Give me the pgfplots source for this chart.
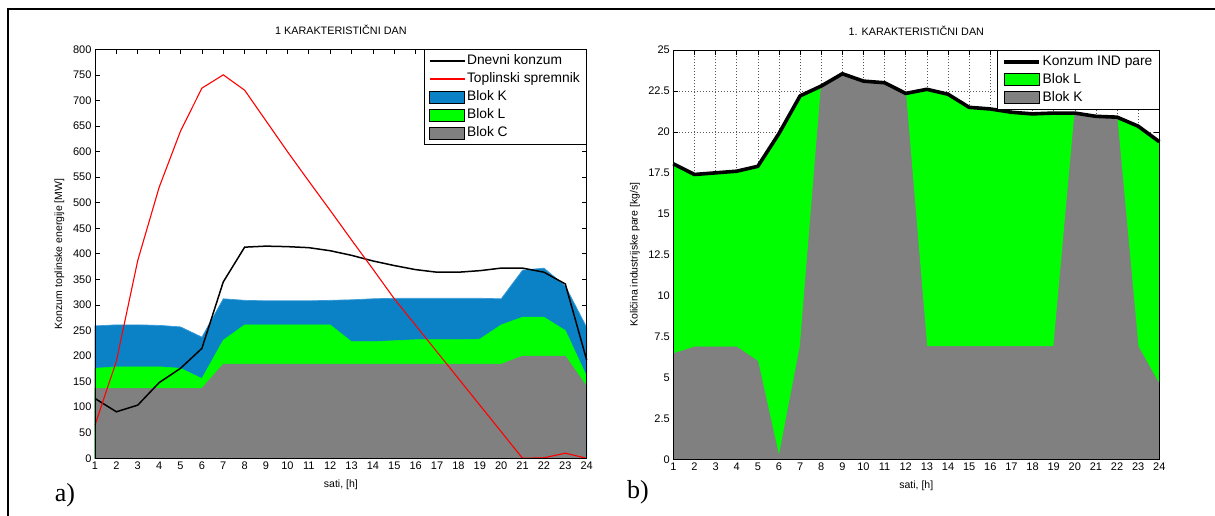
\documentclass[border=0pt]{standalone}
\usepackage{pgfplots}
\usepackage{pgfplotstable}
\pgfplotsset{compat=1.18}
\usepackage{fontspec}
\setmainfont{Liberation Sans}
\newfontfamily\seriffont{Liberation Serif}
\definecolor{blokK}{RGB}{12,130,198}
\definecolor{blokKedge}{RGB}{60,155,215}
\definecolor{blokL}{RGB}{0,255,0}
\definecolor{blokC}{RGB}{128,128,128}
\definecolor{spremnik}{RGB}{255,0,0}

% cumulative tops of the stacked areas: C, C+L, C+L+K
\pgfplotstableread{
h C CL CLK kons spr
1 137 176 259 117 65
2 137 179 261 91 190
3 137 179 261 104 387
4 137 179 260 148 530
5 137 176 257 176 640
6 137 156 237 215 724
7 184 231 312 345 750
8 184 261 309 413 720
9 184 261 308 415 660
10 184 261 308 414 600
11 184 261 308 412 542
12 184 261 309 406 485
13 184 228 310 397 427
14 184 228 312 386 370
15 184 230 313 377 312
16 184 232 313 369 260
17 184 232 313 364 208
18 184 232 313 364 156
19 184 233 313 367 104
20 184 261 312 372 52
21 200 276 368 372 0
22 200 276 372 364 1
23 200 250 337 341 10
24 140 160 256 192 0
}\leftdata

% K = Blok K, tot = Blok K + Blok L = Konzum IND pare
\pgfplotstableread{
h K tot
1 6.46 18.05
2 6.87 17.4
3 6.87 17.5
4 6.87 17.6
5 6.0 17.9
6 0.2 19.9
7 6.9 22.2
8 22.8 22.8
9 23.55 23.55
10 23.1 23.1
11 23.0 23.0
12 22.35 22.35
13 6.9 22.6
14 6.9 22.3
15 6.9 21.5
16 6.9 21.4
17 6.9 21.2
18 6.9 21.1
19 6.9 21.15
20 21.15 21.15
21 20.95 20.95
22 20.9 20.9
23 6.9 20.35
24 4.6 19.4
}\rightdata

\pgfplotsset{
  matlab/.style={
    scale only axis,
    clip=false,
    xmin=1, xmax=24, ymin=0,
    xtick={1,...,24},
    tick align=inside,
    tick pos=both,
    xticklabel pos=left, yticklabel pos=left,
    major tick length=5pt,
    every tick/.style={black, line width=0.6pt},
    axis line style={black, line width=0.8pt},
    tick label style={font=\fontsize{11}{13}\selectfont, black},
    /pgf/number format/assume math mode=true,
    label style={font=\fontsize{10.5}{12}\selectfont},
    title style={font=\fontsize{10.8}{12}\selectfont, at={(axis description cs:0.5,1)}, anchor=center, yshift=13pt},
    xlabel style={at={(axis description cs:0.5,0)}, anchor=center, yshift=-26pt},
    legend cell align=left,
    legend style={font=\fontsize{13.8}{16}\selectfont, at={(1,1)}, anchor=north east,
      draw=black, line width=0.8pt, inner xsep=5pt, inner ysep=3.4pt, row sep=2pt,
      nodes={inner sep=1.5pt, text height=10pt, text depth=3pt}},
  }
}

\begin{document}
\begin{tikzpicture}
\path[use as bounding box] (0pt,0pt) rectangle (1215pt,516pt);
\draw[line width=2pt] (8.3pt,0pt) -- (8.3pt,506.7pt) -- (1215pt,506.7pt);

% left chart
\begin{axis}[matlab,
  at={(95pt,57.7pt)}, anchor=south west,
  width=491.7pt, height=409pt,
  ymax=800, ytick={0,50,...,800},
  title={1 KARAKTERISTIČNI DAN},
  xlabel={sati, [h]},
  ylabel={Konzum toplinske energije [MW]},
  ylabel style={at={(axis description cs:-0.0726,0.5)}, anchor=center},
]
\addlegendimage{legend image code/.code={\draw[draw=black, line width=1.5pt] (0pt,0pt) -- (35pt,0pt);}}
\addlegendentry{Dnevni konzum}
\addlegendimage{legend image code/.code={\draw[color=spremnik, draw=spremnik, line width=1.4pt] (0pt,0pt) -- (35pt,0pt);}}
\addlegendentry{Toplinski spremnik}
\addlegendimage{legend image code/.code={\fill[fill=blokK] (0pt,-6pt) rectangle (35pt,6pt);}}
\addlegendentry{Blok K}
\addlegendimage{legend image code/.code={\fill[fill=blokL] (0pt,-6pt) rectangle (35pt,6pt);}}
\addlegendentry{Blok L}
\addlegendimage{legend image code/.code={\fill[fill=blokC] (0pt,-6pt) rectangle (35pt,6pt);}}
\addlegendentry{Blok C}
\addplot[fill=blokK, draw=blokKedge, line width=0.7pt] table[x=h, y=CLK] {\leftdata} \closedcycle;
\addplot[fill=blokL, draw=blokL, line width=0.5pt] table[x=h, y=CL] {\leftdata} \closedcycle;
\addplot[fill=blokC, draw=blokC, line width=0.5pt] table[x=h, y=C] {\leftdata} \closedcycle;
\addplot[black, line width=1.5pt] table[x=h, y=kons] {\leftdata};
\addplot[spremnik, line width=1.1pt] table[x=h, y=spr] {\leftdata};
\draw[black, line width=0.8pt] (rel axis cs:0,0) rectangle (rel axis cs:1,1);
\end{axis}

% right chart
\begin{axis}[matlab,
  at={(673.3pt,56.5pt)}, anchor=south west,
  width=486pt, height=409.5pt,
  ymax=25, ytick={0,2.5,...,25},
  grid=major, grid style={black!65, line width=0.5pt, dash pattern=on 1pt off 2pt},
  title={1. KARAKTERISTIČNI DAN},
  xlabel={sati, [h]},
  ylabel={Količina industrijske pare [kg/s]},
  ylabel style={at={(axis description cs:-0.0788,0.5)}, anchor=center},
]
\addlegendimage{legend image code/.code={\draw[draw=black, line width=3.8pt] (0pt,0pt) -- (35pt,0pt);}}
\addlegendentry{Konzum IND pare}
\addlegendimage{legend image code/.code={\fill[fill=blokL] (0pt,-6pt) rectangle (35pt,6pt);}}
\addlegendentry{Blok L}
\addlegendimage{legend image code/.code={\fill[fill=blokC] (0pt,-6pt) rectangle (35pt,6pt);}}
\addlegendentry{Blok K}
\addplot[fill=blokL, draw=blokL, line width=0.5pt] table[x=h, y=tot] {\rightdata} \closedcycle;
\addplot[fill=blokC, draw=blokC, line width=0.5pt] table[x=h, y=K] {\rightdata} \closedcycle;
\addplot[black, line width=3.6pt, line join=round] table[x=h, y=tot] {\rightdata};
\draw[black, line width=0.8pt] (rel axis cs:0,0) rectangle (rel axis cs:1,1);
\end{axis}

\node[font=\seriffont\fontsize{26}{28}\selectfont] at (65pt,21pt) {a)};
\node[font=\seriffont\fontsize{26}{28}\selectfont] at (638pt,24pt) {b)};
\end{tikzpicture}
\end{document}
